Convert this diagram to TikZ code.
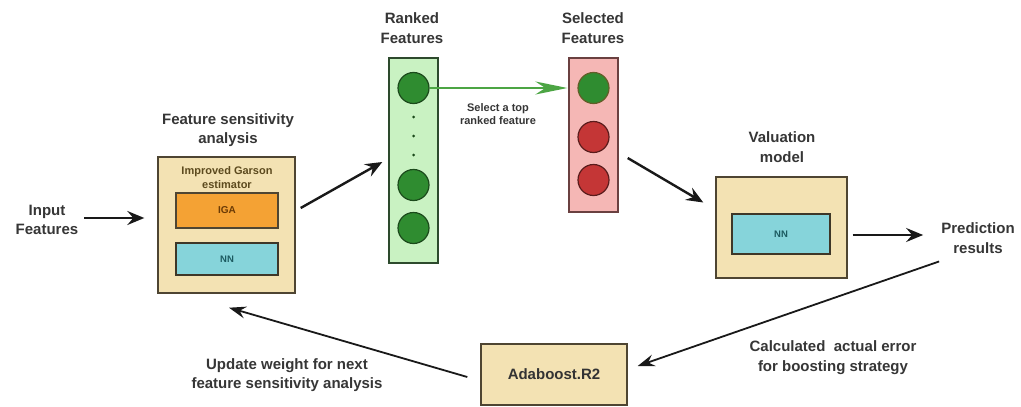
\documentclass[tikz,border=0pt]{standalone}
\usepackage{fontspec}
\setmainfont{Liberation Sans}
\usetikzlibrary{arrows.meta,calc}
\definecolor{txt}{HTML}{363636}
\definecolor{beige}{HTML}{F3E2B3}
\definecolor{beigeb}{HTML}{4E4532}
\definecolor{oltxt}{HTML}{5C4A1E}
\definecolor{igaf}{HTML}{F4A234}
\definecolor{igatxt}{HTML}{6A3A05}
\definecolor{nnf}{HTML}{86D4DA}
\definecolor{nntxt}{HTML}{1C5A60}
\definecolor{rkf}{HTML}{C9F2C2}
\definecolor{rkb}{HTML}{2D4A2D}
\definecolor{gc}{HTML}{2F8C30}
\definecolor{gcb}{HTML}{1B4A1B}
\definecolor{selfill}{HTML}{F5B7B5}
\definecolor{selb}{HTML}{6A4040}
\definecolor{rc}{HTML}{C43636}
\definecolor{rcb}{HTML}{5A1C1C}
\definecolor{garr}{HTML}{4CA544}
\tikzset{
  title/.style={font=\fontsize{15}{19.5}\selectfont\bfseries, text=txt, align=center, inner sep=0pt},
  smalltxt/.style={font=\fontsize{11}{13.5}\selectfont\bfseries, align=center, inner sep=0pt},
  outerbox/.style={draw=beigeb, fill=beige, line width=1.4pt, inner sep=0pt},
  igabox/.style={draw=beigeb, fill=igaf, line width=1.4pt, inner sep=0pt, text=igatxt,
     font=\fontsize{10}{12}\selectfont\bfseries},
  nnbox/.style={draw=beigeb!80!black, fill=nnf, line width=1.4pt, inner sep=0pt, text=nntxt,
     font=\fontsize{9.5}{12}\selectfont\bfseries},
  gcirc/.style={circle, draw=gcb, fill=gc, line width=1.2pt, minimum size=31pt, inner sep=0pt},
  rcirc/.style={circle, draw=rcb, fill=rc, line width=1.2pt, minimum size=31pt, inner sep=0pt},
  arr/.style={-{Stealth[length=17pt,width=14pt,inset=6pt]}, line width=2.4pt, black!90},
  longarr/.style={-{Stealth[length=17pt,width=12pt,inset=6pt]}, line width=1.8pt, black!90},
  grarr/.style={-{Stealth[length=32pt,width=13pt,inset=10pt]}, line width=2pt, garr},
}
\begin{document}
\begin{tikzpicture}[x=1pt,y=-1pt]
\path[use as bounding box, fill=white] (0,0) rectangle (1021,407);

% Input
\node[title] (inp) at (47,220) {Input\\Features};

% Feature sensitivity analysis
\node[title] (fsat) at (228,130) {Feature sensitivity\\analysis};
\node[outerbox, minimum width=137pt, minimum height=136pt] (fsa) at (226.5,225) {};
\node[smalltxt, text=oltxt] (ige) at (227,177.5) {Improved Garson\\estimator};
\node[igabox, minimum width=102pt, minimum height=35pt] (iga) at (227,210.5) {IGA};
\node[nnbox, minimum width=102pt, minimum height=32pt] (nn1) at (227,259) {NN};

% Ranked features
\node[title] (rkt) at (412,28) {Ranked\\Features};
\node[draw=rkb, fill=rkf, line width=1.4pt, minimum width=49pt, minimum height=205pt, inner sep=0pt] (rk) at (413.5,160.5) {};
\node[gcirc] (c1) at (413.5,88) {};
\node[gcirc] (c2) at (413.5,185) {};
\node[gcirc] (c3) at (413.5,228) {};
\fill[gcb] (413.5,117) circle[radius=1.5pt] (413.5,136) circle[radius=1.5pt] (413.5,155) circle[radius=1.5pt];

% Selected features
\node[title] (selt) at (593,28) {Selected\\Features};
\node[draw=selb, fill=selfill, line width=1.4pt, minimum width=49pt, minimum height=154pt, inner sep=0pt] (sel) at (593.5,135) {};
\node[gcirc, draw=olive!60!black] (s1) at (593.5,88) {};
\node[rcirc] (s2) at (593.5,137) {};
\node[rcirc] (s3) at (593.5,180) {};

\node[smalltxt, text=txt] (sl) at (498,114) {Select a top\\ranked feature};
\draw[grarr, shorten >=10pt] (c1.east) -- (s1.west);

% Valuation model
\node[title] (valt) at (782,147) {Valuation\\model};
\node[outerbox, minimum width=131pt, minimum height=101pt] (val) at (781.5,227.5) {};
\node[nnbox, minimum width=98pt, minimum height=40pt] (nn2) at (781,234) {NN};

% Prediction
\node[title] (pred) at (978,238) {Prediction\\results};

% Adaboost
\node[outerbox, minimum width=146pt, minimum height=61pt, font=\fontsize{15}{18}\selectfont\bfseries, text=black!80] (ada) at (554,374.5) {Adaboost.R2};

% Bottom labels
\node[title] (upd) at (287,375) {Update weight for next\\feature sensitivity analysis};
\node[title] (calc) at (833,357.5) {Calculated\ \ actual error\\for boosting strategy};

% Connectors
\draw[arr, shorten <=6pt, shorten >=13pt] (inp.east |- 0,218) -- (fsa.west |- 0,218);
\draw[arr] ($(fsa.east)+(5,-17)$) -- ($(rk.west)+(-6,1.5)$);
\draw[arr] ($(sel.east)+(9,23)$) -- ($(val.west)+(-12,-25)$);
\draw[arr, shorten <=5pt, shorten >=18pt] (val.east |- 0,235) -- (pred.west |- 0,235);
\draw[longarr] ($(pred.south west)+(-2,8)$) -- ($(ada.east)+(10,-8.5)$);
\draw[longarr] ($(ada.west)+(-13,2.5)$) -- ($(fsa.south)+(2.5,14)$);
\end{tikzpicture}
\end{document}
